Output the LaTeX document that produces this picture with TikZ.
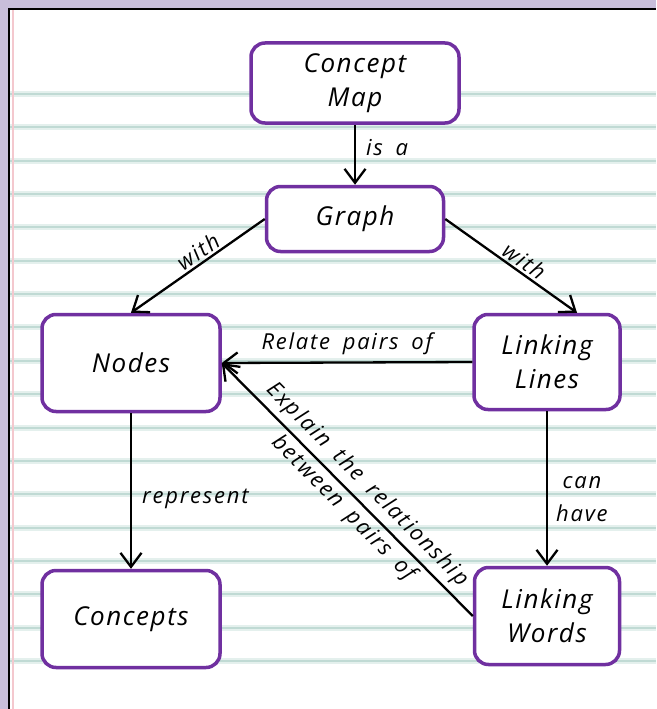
\documentclass[tikz,border=0pt]{standalone}
\usepackage{fontspec}
\usetikzlibrary{arrows.meta}
\newfontfamily\handfont{Open Sans}[LetterSpace=6.0,WordSpace=1.6]
\newfontfamily\lblfont{Open Sans}[LetterSpace=8.0,WordSpace=1.7]

\definecolor{cmpurple}{RGB}{112,48,160}
\definecolor{bgpurple}{RGB}{200,190,218}
\definecolor{rulehalo}{RGB}{228,240,237}
\definecolor{ruleteal}{RGB}{192,218,212}
\definecolor{marginred}{RGB}{244,200,206}

\tikzset{
  box/.style={draw=cmpurple, line width=3.5pt, fill=white, rounded corners=14pt,
    align=center, inner sep=0pt, font=\handfont\itshape\fontsize{26}{34}\selectfont},
  link/.style={line width=2.3pt, -{Straight Barb[length=14pt,width=21pt]}},
  lbl/.style={font=\lblfont\itshape\fontsize{22}{33}\selectfont, inner sep=2pt, align=center},
  ruled/.style={ruleteal, line width=2pt}
}

\begin{document}
\begin{tikzpicture}[x=1pt,y=-1pt]
  \useasboundingbox (0,0) rectangle (656,709);
  % paper
  \fill[bgpurple] (0,0) rectangle (656,709);
  \fill[white] (10,10) rectangle (656,709);
  \foreach \i in {0,...,17}{
    \pgfmathsetmacro\ry{94+33.35*\i}
    \draw[rulehalo, line width=6pt] (10,\ry) -- (656,\ry);
    \draw[ruled] (10,\ry) -- (656,\ry);
  }
  \draw[marginred, line width=2pt] (13,10) -- (13,709);
  \draw[black, line width=2pt] (9,709) -- (9,9) -- (656,9);

  % boxes
  \node[box, minimum width=208pt, minimum height=80pt] (cmap) at (355,83) {Concept\\Map};
  \node[box, minimum width=177pt, minimum height=65pt] (graph) at (355,219) {Graph};
  \node[box, minimum width=178pt, minimum height=97pt] (nodes) at (131,363) {Nodes};
  \node[box, minimum width=146pt, minimum height=95pt] (llines) at (547,362) {Linking\\Lines};
  \node[box, minimum width=178pt, minimum height=97pt] (concepts) at (131,619) {Concepts};
  \node[box, minimum width=145pt, minimum height=97pt] (lwords) at (547,616) {Linking\\Words};

  % links
  \draw[link] (cmap) -- node[lbl, right=8pt, pos=0.38] {is a} (graph);
  \draw[link] (graph.west) -- node[lbl, above, sloped, pos=0.45] {with} (nodes.north);
  \draw[link] (graph.east) -- node[lbl, above, sloped, pos=0.55] {with} ([xshift=30pt]llines.north);
  \draw[link] (llines.west) -- node[lbl, above=5pt] {Relate pairs of} (nodes.east);
  \draw[link] (lwords.west) -- node[lbl, above=3pt, sloped, pos=0.47] {Explain the relationship}
    node[lbl, below=2pt, sloped, pos=0.47] {between pairs of} (nodes.east);
  \draw[link] (nodes) -- node[lbl, right=8pt, pos=0.55] {represent} (concepts);
  \draw[link] (llines) -- node[lbl, right=6pt, pos=0.57] {can\\have} (lwords);
\end{tikzpicture}
\end{document}
